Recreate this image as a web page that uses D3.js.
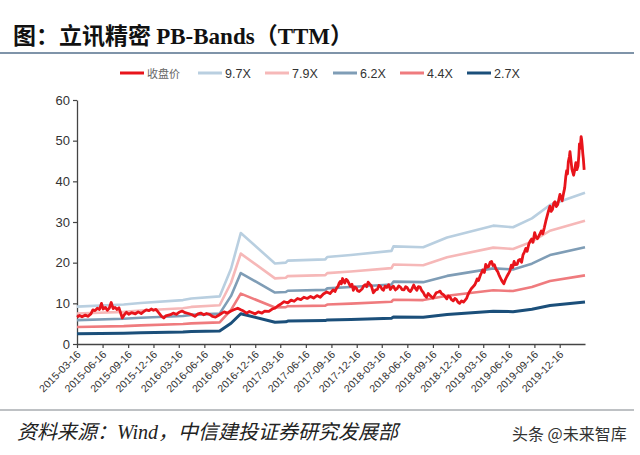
<!DOCTYPE html>
<html><head><meta charset="utf-8">
<script src="https://cdn.jsdelivr.net/npm/d3@7/dist/d3.min.js"></script>
<style>
html,body{margin:0;padding:0;background:#fff;}
svg{display:block;}
</style></head>
<body><svg id="c" width="640" height="455"></svg>
<script>
// ---------- DATA ----------
const seriesNames = ["收盘价","9.7X","7.9X","6.2X","4.4X","2.7X"];
const seriesColors = ["#e8141b","#b9cfe0","#f6b8b8","#7f9db6","#ef7b7e","#1b4f7a"];
const yTicks = [0,10,20,30,40,50,60];
const xTickLabels = ["2015-03-16","2015-06-16","2015-09-16","2015-12-16","2016-03-16","2016-06-16","2016-09-16","2016-12-16","2017-03-16","2017-06-16","2017-09-16","2017-12-16","2018-03-16","2018-06-16","2018-09-16","2018-12-16","2019-03-16","2019-06-16","2019-09-16","2019-12-16"];

const bandDates = ["2015-03-16","2015-08-31","2015-10-31","2016-03-31","2016-04-30","2016-08-10","2016-09-20","2016-10-25","2017-02-25","2017-04-05","2017-04-12","2017-08-25","2017-09-01","2017-11-25","2018-04-20","2018-04-27","2018-08-12","2018-11-06","2019-04-21","2019-07-01","2019-09-07","2019-11-11","2020-03-16"];
const band97 = [9.2,9.7,10.1,10.8,11.2,11.7,18.5,27.3,19.8,20.0,20.5,20.8,21.4,21.9,22.9,24.0,23.8,26.2,29.1,28.7,30.9,34.2,37.2];
const band79 = [7.49,7.90,8.23,8.80,9.12,9.53,15.07,22.23,16.13,16.29,16.70,16.94,17.43,17.84,18.65,19.55,19.38,21.34,23.70,23.37,25.17,27.85,30.30];
const band62 = [5.88,6.20,6.46,6.90,7.16,7.48,11.83,17.45,12.66,12.78,13.10,13.30,13.68,14.00,14.64,15.34,15.21,16.75,18.60,18.34,19.75,21.86,23.78];
const band44 = [4.17,4.40,4.58,4.90,5.08,5.31,8.39,12.38,8.98,9.07,9.30,9.43,9.71,9.93,10.39,10.89,10.80,11.88,13.20,13.02,14.02,15.51,16.87];
const band27 = [2.50,2.65,2.78,2.98,3.10,3.22,5.10,7.45,5.35,5.45,5.65,5.75,5.92,6.05,6.35,6.65,6.60,7.25,8.05,7.95,8.55,9.45,10.3];

const priceDates = ["2015-03-16","2015-03-25","2015-04-03","2015-04-15","2015-04-24","2015-05-05","2015-05-12","2015-05-20","2015-05-28","2015-06-05","2015-06-12","2015-06-18","2015-06-26","2015-07-03","2015-07-10","2015-07-17","2015-07-24","2015-07-31","2015-08-07","2015-08-14","2015-08-21","2015-08-26","2015-09-02","2015-09-10","2015-09-18","2015-09-28","2015-10-12","2015-10-22","2015-11-02","2015-11-12","2015-11-20","2015-11-30","2015-12-08","2015-12-16","2015-12-25","2016-01-05","2016-01-14","2016-01-22","2016-01-29","2016-02-15","2016-02-25","2016-03-07","2016-03-17","2016-03-28","2016-04-08","2016-04-20","2016-05-03","2016-05-13","2016-05-24","2016-06-03","2016-06-14","2016-06-24","2016-07-05","2016-07-15","2016-07-26","2016-08-05","2016-08-16","2016-08-26","2016-09-07","2016-09-20","2016-09-30","2016-10-14","2016-10-25","2016-11-04","2016-11-15","2016-11-25","2016-12-06","2016-12-16","2016-12-27","2017-01-09","2017-01-19","2017-02-03","2017-02-15","2017-02-25","2017-03-08","2017-03-20","2017-03-30","2017-04-12","2017-04-24","2017-05-05","2017-05-17","2017-05-29","2017-06-09","2017-06-21","2017-07-03","2017-07-14","2017-07-26","2017-08-07","2017-08-18","2017-08-30","2017-09-11","2017-09-22","2017-09-29","2017-10-05","2017-10-10","2017-10-14","2017-10-18","2017-10-22","2017-10-26","2017-10-30","2017-11-03","2017-11-08","2017-11-13","2017-11-18","2017-11-23","2017-11-29","2017-12-04","2017-12-09","2017-12-14","2017-12-19","2017-12-25","2018-01-05","2018-01-10","2018-01-16","2018-01-21","2018-01-26","2018-02-01","2018-02-06","2018-02-14","2018-02-22","2018-02-28","2018-03-06","2018-03-12","2018-03-17","2018-03-22","2018-03-28","2018-04-03","2018-04-10","2018-04-16","2018-04-21","2018-04-27","2018-05-04","2018-05-10","2018-05-16","2018-05-22","2018-05-28","2018-06-04","2018-06-10","2018-06-15","2018-06-21","2018-06-27","2018-07-03","2018-07-09","2018-07-14","2018-07-20","2018-07-26","2018-08-01","2018-08-07","2018-08-13","2018-08-18","2018-08-24","2018-08-30","2018-09-05","2018-09-11","2018-09-17","2018-09-22","2018-09-28","2018-10-06","2018-10-12","2018-10-17","2018-10-23","2018-10-29","2018-11-05","2018-11-10","2018-11-16","2018-11-22","2018-11-28","2018-12-04","2018-12-10","2018-12-15","2018-12-21","2018-12-28","2019-01-04","2019-01-10","2019-01-15","2019-01-20","2019-01-25","2019-02-01","2019-02-13","2019-02-18","2019-02-22","2019-02-27","2019-03-05","2019-03-09","2019-03-14","2019-03-20","2019-03-25","2019-03-30","2019-04-04","2019-04-10","2019-04-15","2019-04-20","2019-04-25","2019-05-01","2019-05-07","2019-05-11","2019-05-15","2019-05-20","2019-05-24","2019-05-29","2019-06-04","2019-06-09","2019-06-14","2019-06-20","2019-06-25","2019-06-30","2019-07-05","2019-07-10","2019-07-16","2019-07-21","2019-07-26","2019-08-01","2019-08-06","2019-08-11","2019-08-16","2019-08-21","2019-08-27","2019-09-01","2019-09-06","2019-09-11","2019-09-17","2019-09-22","2019-09-27","2019-10-04","2019-10-11","2019-10-16","2019-10-22","2019-10-27","2019-11-01","2019-11-06","2019-11-11","2019-11-15","2019-11-20","2019-11-25","2019-11-29","2019-12-04","2019-12-09","2019-12-13","2019-12-17","2019-12-21","2019-12-25","2019-12-30","2020-01-03","2020-01-07","2020-01-10","2020-01-13","2020-01-16","2020-01-20","2020-01-22","2020-01-29","2020-02-04","2020-02-08","2020-02-12","2020-02-16","2020-02-20","2020-02-23","2020-02-25","2020-02-28","2020-03-02","2020-03-04","2020-03-06","2020-03-08","2020-03-10","2020-03-13"];
const priceValues = [6.6,7.0,6.7,7.1,6.8,7.4,8.4,8.2,8.8,8.5,10.0,8.6,9.0,8.3,8.8,10.2,8.7,9.0,8.5,8.9,7.4,6.4,7.2,7.8,7.3,7.7,7.4,7.9,7.5,8.0,8.4,8.2,8.6,8.3,8.5,7.6,6.8,6.4,6.9,7.2,7.6,7.3,7.8,8.1,7.7,7.5,7.2,6.8,7.4,7.6,7.2,7.5,7.3,6.8,6.6,7.0,7.5,7.9,7.6,8.1,8.4,8.8,8.4,8.1,7.6,8.0,7.7,7.4,7.9,7.6,8.1,8.0,8.6,8.8,9.4,9.9,10.4,10.1,10.8,10.5,11.2,10.9,11.5,11.2,11.7,11.3,11.9,11.5,12.3,12.8,12.4,13.3,12.9,13.8,14.2,15.0,15.4,14.8,16.1,15.5,15.0,15.9,15.6,14.9,14.2,14.7,13.2,14.0,13.8,13.1,12.9,13.6,14.3,14.6,14.1,15.2,14.7,14.4,12.6,13.3,13.4,14.4,14.1,13.5,13.2,14.2,13.9,14.6,13.4,13.9,14.2,13.3,13.6,14.3,14.0,13.4,13.3,14.1,13.9,13.2,12.9,13.6,14.5,13.8,13.2,14.1,14.0,13.1,12.6,11.9,11.5,12.4,12.0,11.6,11.3,11.9,12.6,12.8,13.0,12.4,12.2,11.7,11.1,11.8,11.6,10.9,10.6,11.2,10.9,10.3,10.0,10.6,10.3,10.8,11.2,12.1,12.8,13.6,14.5,15.2,16.0,15.6,16.8,17.4,18.2,17.6,19.6,18.9,19.0,20.1,20.3,19.3,19.5,18.4,17.8,17.1,16.5,15.8,15.3,14.8,15.9,16.6,17.2,18.0,19.4,18.8,20.3,19.5,19.6,20.6,20.8,20.1,21.9,22.6,23.5,22.8,24.6,25.3,25.8,25.0,27.4,26.2,25.9,26.8,27.8,27.1,28.7,30.2,31.5,32.8,33.9,32.6,33.1,34.7,35.0,33.8,34.3,35.6,36.8,35.9,35.2,37.1,38.4,41.2,42.6,41.8,44.8,46.1,47.3,43.0,41.5,42.8,44.6,42.9,43.8,46.5,49.2,48.1,51.0,50.2,48.7,46.9,45.6,42.8];

// ---------- CHART ----------
const parse = d3.timeParse("%Y-%m-%d");
const svg = d3.select("#c");
const x = d3.scaleTime().domain([parse("2015-03-16"), parse("2020-03-16")]).range([77, 585]);
const y = d3.scaleLinear().domain([0, 60]).range([344, 100]);

// title
const title = svg.append("text").attr("x", 13).attr("y", 44)
  .style("font-family", "'Liberation Serif','Noto Sans CJK SC',serif")
  .style("font-weight", "bold").style("font-size", "23px").attr("fill", "#111");
title.append("tspan").style("font-family","'Noto Sans CJK SC',sans-serif").text("图：立讯精密 ");
title.append("tspan").text("PB-Bands");
title.append("tspan").style("font-family","'Noto Sans CJK SC',sans-serif").text("（");
title.append("tspan").text("TTM");
title.append("tspan").style("font-family","'Noto Sans CJK SC',sans-serif").text("）");

svg.append("line").attr("x1", 0).attr("x2", 634).attr("y1", 53).attr("y2", 53)
  .attr("stroke", "#55708c").attr("stroke-width", 1.5);
svg.append("line").attr("x1", 0).attr("x2", 634).attr("y1", 410).attr("y2", 410)
  .attr("stroke", "#a9acb0").attr("stroke-width", 1.5);

// legend
const legendX = [120, 198, 265, 333, 400, 467];
const lg = svg.append("g");
seriesNames.forEach((n, i) => {
  const g = lg.append("g").attr("transform", `translate(${legendX[i]},73)`);
  g.append("line").attr("x1", 0).attr("x2", 24).attr("stroke", seriesColors[i]).attr("stroke-width", 3);
  g.append("text").attr("x", 27).attr("y", 4.5)
    .style("font-family", i === 0 ? "'Noto Sans CJK SC',sans-serif" : "'Liberation Sans',Arial,sans-serif")
    .style("font-size", i === 0 ? "11px" : "12.5px").attr("fill", i === 0 ? "#666" : "#333")
    .text(n);
});

// axes
const xAxis = d3.axisBottom(x).tickValues(xTickLabels.map(parse))
  .tickFormat(d3.timeFormat("%Y-%m-%d")).tickSize(4).tickSizeOuter(0);
const gx = svg.append("g").attr("transform", "translate(0,344)").call(xAxis);
gx.select(".domain").attr("stroke", "#444").attr("stroke-width", 1.3);
gx.selectAll(".tick line").attr("stroke", "#444").attr("stroke-width", 1.2);
gx.selectAll(".tick text").attr("x", 0).attr("y", 0).attr("dy", 0)
  .attr("transform", "translate(4,11) rotate(-45)").attr("text-anchor", "end")
  .style("font-family", "'Liberation Sans',Arial,sans-serif").style("font-size", "10.5px").attr("fill", "#333");

const yAxis = d3.axisLeft(y).tickValues(yTicks).tickSize(4).tickSizeOuter(0);
const gy = svg.append("g").attr("transform", "translate(77,0)").call(yAxis);
gy.select(".domain").attr("stroke", "#444").attr("stroke-width", 1.3);
gy.selectAll(".tick line").attr("stroke", "#444").attr("stroke-width", 1.2);
gy.selectAll(".tick text").attr("x", -7)
  .style("font-family", "'Liberation Sans',Arial,sans-serif").style("font-size", "13px").attr("fill", "#333");

// lines
const line = d3.line().x(d => x(d[0])).y(d => y(d[1]));
const bandArrays = [band97, band79, band62, band44, band27];
bandArrays.forEach((arr, i) => {
  const data = bandDates.map((d, j) => [parse(d), arr[j]]);
  svg.append("path").datum(data).attr("d", line).attr("fill", "none")
    .attr("stroke", seriesColors[i + 1]).attr("stroke-width", i === 4 ? 3 : 2.6)
    .attr("stroke-linejoin", "round");
});
const priceData = priceDates.map((d, j) => [parse(d), priceValues[j]]);
svg.append("path").datum(priceData).attr("d", line).attr("fill", "none")
  .attr("stroke", seriesColors[0]).attr("stroke-width", 2.8).attr("stroke-linejoin", "round");

// footer
svg.append("text").attr("x", 17).attr("y", 439)
  .style("font-family", "'Liberation Serif','Noto Sans CJK SC',serif").style("font-style", "italic")
  .style("font-size", "20px").attr("fill", "#222")
  .text("资料来源：Wind，中信建投证券研究发展部");
svg.append("text").attr("x", 512).attr("y", 440)
  .style("font-family", "'Noto Sans CJK SC',sans-serif").style("font-size", "16px").attr("fill", "#333")
  .text("头条 @未来智库");
</script></body></html>
